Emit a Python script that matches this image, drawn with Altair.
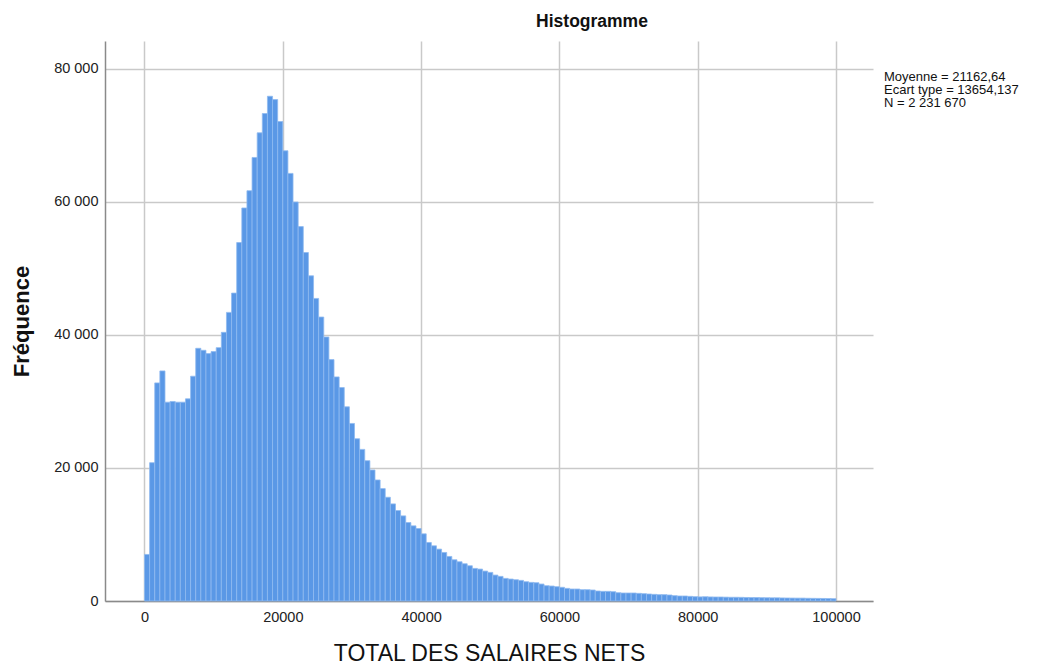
import altair as alt
import pandas as pd

# Histogram of "TOTAL DES SALAIRES NETS" (SPSS style), 135 bins from 0 to 100000
bin_count = 135
x_min = 0
x_max = 100000

counts = [
    # bins 1-17
    7000, 20800, 32800, 34600, 29900, 30000, 29900, 29900, 30400, 33800,
    38000, 37700, 37200, 37500, 38100, 40400, 43400,
    # bins 18-34
    46300, 53900, 59100, 61700, 66700, 70400, 73300, 75900, 75400, 72100,
    67700, 64300, 60000, 56300, 52400, 48900, 45500,
    # bins 35-54
    42700, 39700, 36300, 33700, 32100, 29200, 26700, 24400, 22800, 21100,
    19700, 18200, 16900, 15600, 14600, 13600, 12800, 11800, 11300, 10900,
    # bins 55-81
    10100, 8800, 8300, 7800, 7300, 6700, 6200, 5900, 5600, 5300,
    4900, 4800, 4500, 4300, 3900, 3700, 3400, 3300, 3200, 3100,
    2900, 2800, 2750, 2550, 2300, 2250, 2150,
    # bins 82-109
    2060, 1900, 1800, 1800, 1700, 1700, 1650, 1500, 1450, 1450,
    1400, 1250, 1200, 1200, 1200, 1150, 1100, 1050, 1000, 950,
    950, 900, 800, 750, 750, 700, 650, 620,
    # bins 110-135
    640, 610, 600, 600, 580, 560, 560, 550, 530, 520,
    520, 500, 490, 480, 480, 460, 450, 440, 430, 430,
    410, 400, 390, 380, 370, 350,
]

x_ticks = [0, 20000, 40000, 60000, 80000, 100000]
y_ticks = [0, 20000, 40000, 60000, 80000]

title_text = "Histogramme"
x_title = "TOTAL DES SALAIRES NETS"
y_title = "Fréquence"
stats_lines = ["Moyenne = 21162,64", "Ecart type = 13654,137", "N = 2 231 670"]

FONT = "Liberation Sans"

bin_width = (x_max - x_min) / bin_count
df = pd.DataFrame({
    "start": [x_min + i * bin_width for i in range(len(counts))],
    "end": [x_min + (i + 1) * bin_width for i in range(len(counts))],
    "count": counts,
})

x_scale = alt.Scale(domain=[-5712, 105351], nice=False, zero=False)
y_scale = alt.Scale(domain=[0, 84210], nice=False)

bars = alt.Chart(df).mark_bar(
    fill="#5a98e6", stroke="#8fbaf0", strokeWidth=0.8
).encode(
    x=alt.X("start:Q", scale=x_scale,
            axis=alt.Axis(values=x_ticks, format="d", title=x_title,
                          ticks=False, labelPadding=9, labelFontSize=14.5,
                          labelColor="#222", labelFont=FONT,
                          domainColor="#8a8a8a", domainWidth=1.5,
                          gridColor="#c9c9c9", gridWidth=1.5,
                          titleFont=FONT, titleFontSize=23, titleFontWeight="normal",
                          titleColor="#111", titleY=52, titleBaseline="middle")),
    x2="end:Q",
    y=alt.Y("count:Q", scale=y_scale,
            axis=alt.Axis(values=y_ticks, title=y_title,
                          labelExpr="replace(format(datum.value, ','), ',', ' ')",
                          ticks=False, labelPadding=7, labelFontSize=14.5,
                          labelColor="#222", labelFont=FONT,
                          domainColor="#8a8a8a", domainWidth=1.5,
                          gridColor="#c9c9c9", gridWidth=1.5,
                          titleFont=FONT, titleFontSize=22, titleFontWeight="bold",
                          titleColor="#111", titleX=-84, titleY=280,
                          titleAngle=270, titleAlign="center", titleBaseline="middle")),
    y2=alt.datum(0),
)

stats = alt.Chart(pd.DataFrame({"k": [0]})).mark_text(
    text=stats_lines, align="left", baseline="top", font=FONT,
    fontSize=13, lineHeight=13, color="#111"
).encode(x=alt.value(779), y=alt.value(30))

title = alt.Chart(pd.DataFrame({"k": [0]})).mark_text(
    text=title_text, align="center", baseline="middle", font=FONT,
    fontSize=17.5, fontWeight="bold", color="#111"
).encode(x=alt.value(487), y=alt.value(-19))

chart = alt.layer(bars, stats, title).properties(
    width=768, height=560,
    autosize=alt.AutoSizeParams(type="none"),
    padding={"left": 97, "top": 33, "right": 160, "bottom": 64},
).configure_view(strokeWidth=0)

chart.save("out.html", embed_options={"renderer": "svg", "actions": False})
